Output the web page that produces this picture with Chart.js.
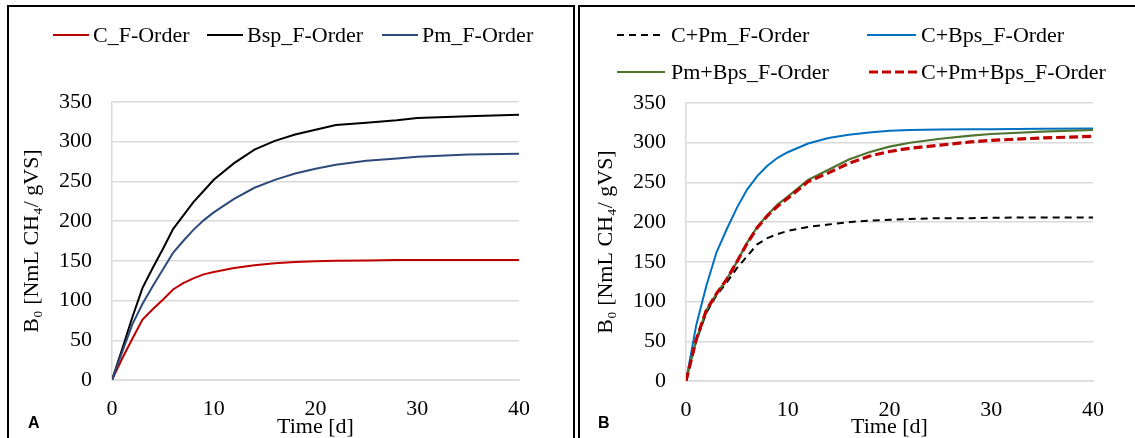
<!DOCTYPE html>
<html>
<head>
<meta charset="utf-8">
<script src="https://cdn.jsdelivr.net/npm/chart.js@4.4.0/dist/chart.umd.min.js"></script>
<style>
  body { margin: 0; width: 1135px; height: 438px; overflow: hidden; background: #fff;
         font-family: 'Liberation Serif', 'Times New Roman', serif; }
  .panel { position: absolute; top: 5px; height: 450px; border-top: 2px solid #000; border-left: 2px solid #000; }
  #panelA { left: 7px; width: 564px; border-right: 2px solid #000; }
  #panelB { left: 578px; width: 570px; }
  canvas { position: absolute; top: 0; }
  .item { position: absolute; height: 26px; line-height: 26px; font-size: 22px; white-space: nowrap; color: #000; }
  .item svg { position: absolute; left: 0; top: 12px; overflow: visible; }
  .item span { position: absolute; top: 0; }
  .tag { position: absolute; font: bold 16px 'Liberation Sans', Arial, sans-serif; }
</style>
</head>
<body>
<div class="panel" id="panelA"></div>
<div class="panel" id="panelB"></div>
<canvas id="chartA" width="575" height="438" style="left:0"></canvas>
<canvas id="chartB" width="555" height="438" style="left:580px"></canvas>
<div id="legends"></div>
<div class="tag" style="left:28px; top:414px">A</div>
<div class="tag" style="left:598px; top:414px">B</div>

<script>
// sampling days (d)
const days = [0, 1, 2, 3, 4, 5, 6, 7, 8, 9, 10, 12, 14, 16, 18, 20, 22, 25, 28, 30, 35, 40];

// panel A: single substrates, first-order fit (NmL CH4 / gVS)
const cF   = [0, 27, 52, 76, 89, 101, 114, 122, 128, 133, 136, 141, 144.5, 147, 148.5, 149.5, 150, 150.5, 151, 151, 151, 151];
const bspF = [0, 39, 79, 116, 141, 165, 190, 207, 224, 238, 252, 273, 290, 301, 309, 315, 321, 324, 327, 330, 332, 334];
const pmF  = [0, 35, 70, 96, 118, 139, 160, 175, 189, 201, 211, 228, 242, 252, 260, 266, 271, 276, 279, 281, 284, 285];

// panel B: co-digestion mixtures, first-order fit
const cPmF     = [0, 50, 86, 108, 124, 142, 157, 172, 180, 185, 189, 194, 197, 200, 202, 203, 204, 205, 205, 205.5, 206, 206];
const cBpsF    = [0, 70, 120, 162, 191, 218, 241, 258, 271, 281, 288, 299, 306, 310, 313, 315, 316, 316.5, 317, 317, 317.5, 318];
const pmBpsF   = [0, 52, 89, 110, 128, 150, 174, 194, 209, 222, 232, 253, 266, 279, 288, 295, 300, 305, 309, 311, 314, 316];
const cPmBpsF  = [0, 52, 89, 110, 128, 150, 173, 193, 208, 220, 230, 251, 262, 274, 283, 289, 293, 297, 301, 303, 306, 308];

const xTicks = { min: 0, max: 40, step: 10 };
const yTicks = { min: 0, max: 350, step: 50 };
const xTitle = 'Time [d]';
const yTitle = 'B\u2080 [NmL CH\u2084/ gVS]';

const serif = "'Liberation Serif', 'Times New Roman', serif";
const grey = '#d9d9d9';

function pts(vals) {
  return vals.map((v, i) => ({ x: days[i], y: v }));
}

function series(label, vals, color, width, dash, order) {
  return { label, data: pts(vals), borderColor: color, backgroundColor: color,
           borderWidth: width, borderDash: dash, order, fill: false };
}

const setA = [
  series('C_F-Order', cF, '#c00000', 2, [], 2),
  series('Bsp_F-Order', bspF, '#000000', 2, [], 1),
  series('Pm_F-Order', pmF, '#2f4a7a', 2, [], 0)
];
const setB = [
  series('C+Pm_F-Order', cPmF, '#000000', 2, [7, 5], 3),
  series('C+Bps_F-Order', cBpsF, '#0070c0', 2, [], 2),
  series('Pm+Bps_F-Order', pmBpsF, '#4e7530', 2.2, [], 1),
  series('C+Pm+Bps_F-Order', cPmBpsF, '#c00000', 3.2, [9, 4], 0)
];

function makeChart(id, datasets, box) {
  const font = { family: serif, size: 22 };
  return new Chart(document.getElementById(id), {
    type: 'line',
    data: { datasets },
    options: {
      responsive: false,
      animation: false,
      layout: { padding: { top: box.top, right: box.right, bottom: 0, left: 0 } },
      elements: { point: { radius: 0 }, line: { tension: 0 } },
      plugins: { legend: { display: false }, tooltip: { enabled: false } },
      scales: {
        x: {
          type: 'linear', min: xTicks.min, max: xTicks.max,
          ticks: { stepSize: xTicks.step, padding: 8, color: '#000', font },
          grid: { display: false },
          border: { display: true, color: grey, width: 1.5 },
          title: { display: true, text: xTitle, color: '#000',
                   font: { family: serif, size: 22, lineHeight: 0.9 }, padding: { top: 0, bottom: 1 } },
          afterFit(s) { s.height = box.xh; }
        },
        y: {
          min: yTicks.min, max: yTicks.max,
          ticks: { stepSize: yTicks.step, padding: 20, color: '#000', font },
          grid: { color: grey, lineWidth: 1.5, drawTicks: false },
          border: { display: true, color: grey, width: 1.5 },
          title: { display: true, text: yTitle, color: '#000', font,
                   padding: { top: box.titlePad, bottom: 0 } },
          afterFit(s) { s.width = box.yw; }
        }
      }
    }
  });
}

makeChart('chartA', setA, { top: 102, right: 56, xh: 58, yw: 112, titlePad: 19 });
makeChart('chartB', setB, { top: 103, right: 42, xh: 57, yw: 106, titlePad: 13 });

// legends: [dataset, line left, line length, text left, row centre]
const legendLayout = [
  [setA[0], 53, 36, 93, 35],
  [setA[1], 207, 36, 247, 35],
  [setA[2], 382, 36, 422, 35],
  [setB[0], 617, 45, 671, 35],
  [setB[1], 867, 49, 921, 35],
  [setB[2], 617, 48, 671, 72],
  [setB[3], 869, 49, 921, 72]
];
const host = document.getElementById('legends');
legendLayout.forEach(([ds, lx, len, tx, cy]) => {
  const div = document.createElement('div');
  div.className = 'item';
  div.style.left = lx + 'px';
  div.style.top = (cy - 13) + 'px';
  const dash = ds.borderDash.length ? ds.borderDash.join(' ') : 'none';
  div.innerHTML =
    '<svg width="' + len + '" height="2"><line x1="0" y1="1" x2="' + len + '" y2="1" stroke="' +
    ds.borderColor + '" stroke-width="' + ds.borderWidth + '" stroke-dasharray="' + dash + '"/></svg>' +
    '<span style="left:' + (tx - lx) + 'px">' + ds.label + '</span>';
  host.appendChild(div);
});
</script>
</body>
</html>
